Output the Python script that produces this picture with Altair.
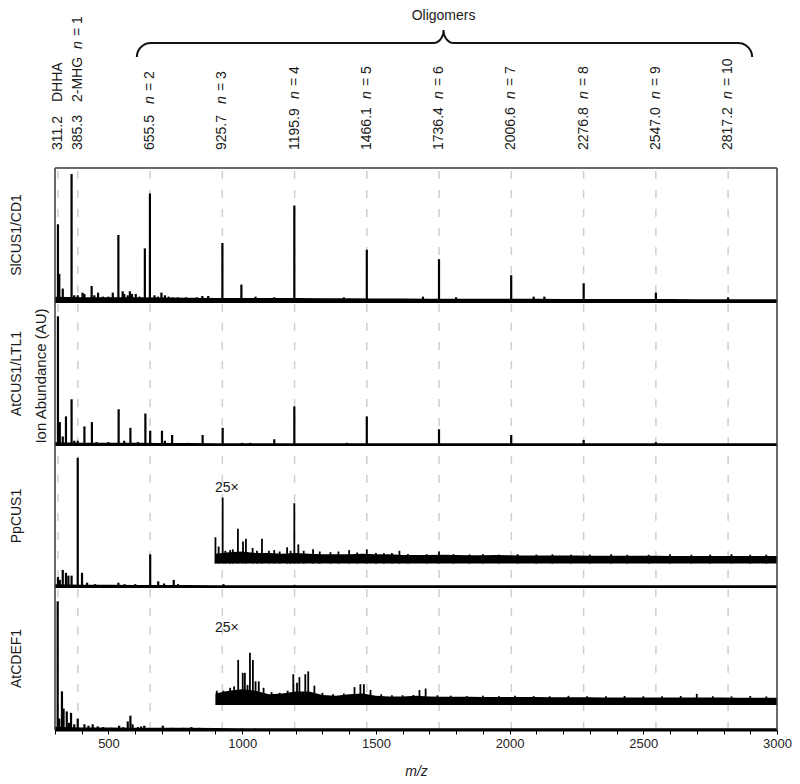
import numpy as np
import pandas as pd
import altair as alt

FONT = "Liberation Sans"

# ---------------- data ----------------
panel_names = ["SlCUS1/CD1", "AtCUS1/LTL1", "PpCUS1", "AtCDEF1"]

marker_mz = [311.2, 385.3, 655.5, 925.7, 1195.9, 1466.1, 1736.4, 2006.6, 2276.8, 2547.0, 2817.2]
marker_num = ["311.2", "385.3", "655.5", "925.7", "1195.9", "1466.1", "1736.4", "2006.6", "2276.8", "2547.0", "2817.2"]
marker_name = ["DHHA", "2-MHG", "", "", "", "", "", "", "", "", ""]
marker_n = ["", "1", "2", "3", "4", "5", "6", "7", "8", "9", "10"]

tick_values = list(range(300, 3001, 100))

# Panel 1: SlCUS1/CD1 (relative intensity, fraction of panel height)
sl_mz = [311, 316, 329, 362, 372, 385, 403, 410, 437, 447, 461, 479, 500, 516, 537, 553, 559, 572, 580, 588,
         602, 616, 636, 655, 672, 685, 698, 711, 725, 740, 760, 790, 830, 851, 873, 926, 997, 1050, 1120, 1195,
         1380, 1466, 1676, 1736, 1800, 2006, 2090, 2130, 2277, 2547, 2817]
sl_int = [0.58, 0.21, 0.10, 0.955, 0.05, 0.05, 0.07, 0.06, 0.12, 0.05, 0.07, 0.04, 0.04, 0.07, 0.50, 0.08, 0.06, 0.05, 0.08, 0.06,
          0.06, 0.04, 0.40, 0.81, 0.05, 0.04, 0.07, 0.05, 0.04, 0.035, 0.035, 0.035, 0.035, 0.045, 0.045, 0.44, 0.13, 0.04, 0.035, 0.72,
          0.035, 0.39, 0.04, 0.32, 0.035, 0.20, 0.04, 0.04, 0.14, 0.07, 0.035]

# Panel 2: AtCUS1/LTL1
at_mz = [311, 318, 329, 341, 362, 372, 385, 410, 438, 455, 500, 538, 559, 582, 610, 638, 656, 700, 711, 738,
         800, 852, 927, 1000, 1030, 1120, 1195, 1392, 1466, 1736, 2006, 2277, 2547]
at_int = [0.90, 0.16, 0.06, 0.20, 0.32, 0.03, 0.03, 0.13, 0.16, 0.02, 0.02, 0.25, 0.03, 0.12, 0.02, 0.22, 0.10, 0.10, 0.03, 0.07,
          0.015, 0.07, 0.12, 0.015, 0.015, 0.04, 0.27, 0.015, 0.20, 0.11, 0.07, 0.035, 0.02]

# Panel 3: PpCUS1
pp_mz = [311, 318, 329, 341, 350, 362, 385, 401, 420, 450, 537, 560, 600, 656, 686, 708, 744, 760, 930, 1195]
pp_int = [0.07, 0.05, 0.12, 0.10, 0.08, 0.08, 0.91, 0.10, 0.03, 0.02, 0.03, 0.02, 0.02, 0.23, 0.04, 0.025, 0.05, 0.02, 0.02, 0.015]

# Panel 3, 25x trace (height above its own offset baseline)
pp_inset_mz = [900, 912, 927, 937, 955, 965, 984, 1003, 1014, 1039, 1055, 1074, 1100, 1120, 1140, 1168, 1181, 1195, 1210, 1230,
               1265, 1290, 1330, 1360, 1400, 1430, 1466, 1500, 1530, 1560, 1588, 1620, 1690, 1736, 1790, 1850, 1900, 1960, 2030, 2100,
               2160, 2230, 2300, 2380, 2440, 2520, 2600, 2680, 2750, 2830, 2900, 2960]
pp_inset_int = [0.185, 0.12, 0.465, 0.09, 0.095, 0.10, 0.245, 0.155, 0.175, 0.11, 0.09, 0.175, 0.09, 0.095, 0.085, 0.115, 0.09, 0.425, 0.135, 0.09,
                0.10, 0.085, 0.08, 0.085, 0.095, 0.078, 0.10, 0.075, 0.072, 0.075, 0.09, 0.068, 0.066, 0.085, 0.066, 0.064, 0.066, 0.063, 0.066, 0.063,
                0.065, 0.062, 0.063, 0.066, 0.062, 0.062, 0.065, 0.062, 0.063, 0.066, 0.062, 0.063]

# Panel 4: AtCDEF1
cd_mz = [310, 316, 326, 332, 344, 352, 360, 372, 385, 410, 425, 441, 460, 480, 510, 540, 555, 572, 582, 590,
         610, 622, 634, 703, 740, 780, 810, 840, 1000, 1050]
cd_int = [0.90, 0.08, 0.27, 0.15, 0.13, 0.05, 0.12, 0.04, 0.08, 0.04, 0.03, 0.04, 0.025, 0.02, 0.015, 0.03, 0.02, 0.06, 0.10, 0.04,
          0.02, 0.025, 0.03, 0.03, 0.015, 0.015, 0.02, 0.015, 0.01, 0.01]

cd_inset_mz = [905, 930, 955, 970, 985, 1002, 1010, 1020, 1029, 1040, 1050, 1062, 1080, 1110, 1140, 1170, 1191, 1205, 1214, 1236,
               1247, 1270, 1300, 1340, 1380, 1420, 1442, 1455, 1480, 1520, 1560, 1600, 1640, 1663, 1686, 1730, 1780, 1840, 1900, 1960,
               2020, 2090, 2150, 2220, 2290, 2360, 2430, 2500, 2570, 2640, 2700, 2760, 2830, 2900, 2960]
cd_inset_int = [0.10, 0.10, 0.12, 0.13, 0.315, 0.225, 0.225, 0.14, 0.365, 0.315, 0.165, 0.165, 0.12, 0.09, 0.085, 0.10, 0.215, 0.155, 0.195, 0.215,
                0.235, 0.135, 0.085, 0.075, 0.08, 0.125, 0.145, 0.145, 0.105, 0.075, 0.068, 0.068, 0.07, 0.105, 0.115, 0.068, 0.065, 0.062, 0.065, 0.062,
                0.064, 0.062, 0.061, 0.064, 0.061, 0.061, 0.063, 0.061, 0.061, 0.063, 0.078, 0.061, 0.06, 0.063, 0.06]

# baseline noise level, main traces (m/z 300..3000 every 100)
noise_grid = list(range(300, 3001, 100))
sl_noise = [0.04, 0.036, 0.036, 0.035, 0.034, 0.032, 0.03, 0.03, 0.03, 0.03, 0.028, 0.028, 0.026, 0.026, 0.025,
            0.025, 0.024, 0.024, 0.024, 0.023, 0.023, 0.022, 0.022, 0.022, 0.021, 0.021, 0.02, 0.02]
at_noise = [0.02, 0.016, 0.015, 0.015, 0.014, 0.014, 0.013, 0.013, 0.013, 0.013, 0.012, 0.012, 0.012, 0.012,
            0.012, 0.012, 0.012, 0.012, 0.012, 0.012, 0.012, 0.012, 0.012, 0.012, 0.012, 0.012, 0.012, 0.012]
pp_noise = [0.02, 0.016, 0.015, 0.014, 0.014, 0.014, 0.013, 0.013, 0.012, 0.012, 0.012, 0.012, 0.012, 0.012,
            0.012, 0.012, 0.012, 0.012, 0.012, 0.012, 0.012, 0.012, 0.012, 0.012, 0.012, 0.012, 0.012, 0.012]
cd_noise = [0.022, 0.018, 0.017, 0.016, 0.016, 0.015, 0.014, 0.013, 0.013, 0.012, 0.012, 0.012, 0.012, 0.012,
            0.012, 0.012, 0.012, 0.012, 0.012, 0.012, 0.012, 0.012, 0.012, 0.012, 0.012, 0.012, 0.012, 0.012]

# noise level of the 25x traces (m/z 900..3000 every 50)
inset_grid = list(range(900, 3001, 50))
pp_inset_noise = [0.07, 0.08, 0.085, 0.075, 0.075, 0.07, 0.075, 0.07, 0.065, 0.065,
                  0.065, 0.07, 0.065, 0.065, 0.06, 0.06, 0.06, 0.062, 0.06, 0.058,
                  0.058, 0.06, 0.058, 0.057, 0.057, 0.056, 0.056, 0.056, 0.055, 0.055,
                  0.055, 0.055, 0.055, 0.055, 0.054, 0.054, 0.054, 0.054, 0.054, 0.053,
                  0.053, 0.053, 0.053]
cd_inset_noise = [0.08, 0.10, 0.11, 0.10, 0.075, 0.08, 0.095, 0.095, 0.07, 0.065,
                  0.075, 0.08, 0.065, 0.06, 0.06, 0.065, 0.06, 0.058, 0.058, 0.057,
                  0.056, 0.056, 0.055, 0.055, 0.055, 0.054, 0.054, 0.054, 0.054, 0.053,
                  0.053, 0.053, 0.053, 0.052, 0.052, 0.052, 0.052, 0.052, 0.052, 0.051,
                  0.051, 0.051, 0.05]

# ---------------- layout (pixels) ----------------
W, H = 722, 720
panel_h = [134, 143, 142, 143]          # top -> bottom
bases = []
acc = 0
for h in reversed(panel_h):
    bases.insert(0, acc)
    acc += h
top_of_panels = acc                      # 562
inset_offset = {2: 0.165, 3: 0.175}
label_base = 580

peaks = [(sl_mz, sl_int), (at_mz, at_int), (pp_mz, pp_int), (cd_mz, cd_int)]
noises = [sl_noise, at_noise, pp_noise, cd_noise]

rows = []
for i, (mz, it) in enumerate(peaks):
    for m, v in zip(mz, it):
        rows.append({"mz": m, "y": bases[i], "y2": bases[i] + v * panel_h[i], "panel": panel_names[i]})
peak_df = pd.DataFrame(rows)

rows = []
for i, nz in enumerate(noises):
    for m, v in zip(noise_grid, nz):
        rows.append({"mz": m, "y": bases[i], "y2": bases[i] + v * panel_h[i], "panel": panel_names[i]})
noise_df = pd.DataFrame(rows)

rows, arows = [], []
for i, mz, it, nz in [(2, pp_inset_mz, pp_inset_int, pp_inset_noise), (3, cd_inset_mz, cd_inset_int, cd_inset_noise)]:
    b = bases[i] + inset_offset[i] * panel_h[i]
    for m, v in zip(mz, it):
        rows.append({"mz": m, "y": b, "y2": b + v * panel_h[i], "panel": panel_names[i]})
    for m, v in zip(inset_grid, nz):
        arows.append({"mz": m, "y": b, "y2": b + v * panel_h[i], "panel": panel_names[i]})
inset_peak_df = pd.DataFrame(rows)
inset_area_df = pd.DataFrame(arows)

base_df = pd.DataFrame({"mz": [300] * 4, "mz2": [3000] * 4, "y": bases})
frame_df = pd.DataFrame({"mz": [300, 3000, 300], "mz2": [300, 3000, 3000],
                         "y": [0, 0, top_of_panels], "y2": [top_of_panels, top_of_panels, top_of_panels]})
dash_df = pd.DataFrame({"mz": marker_mz, "y": [0] * len(marker_mz), "y2": [top_of_panels + 8] * len(marker_mz)})

# header labels
norm_rows, ital_rows = [], []
for m, num, name, n in zip(marker_mz, marker_num, marker_name, marker_n):
    norm_rows.append({"mz": m, "y": label_base, "text": num})
    if name:
        norm_rows.append({"mz": m, "y": label_base + 48, "text": name})
    if n:
        if name:
            ny = label_base + 101
        else:
            ny = label_base + (46 if len(num) == 5 else 51)
        ital_rows.append({"mz": m, "y": ny, "text": "n"})
        norm_rows.append({"mz": m, "y": ny + 13, "text": "= " + n})
norm_df = pd.DataFrame(norm_rows)
ital_df = pd.DataFrame(ital_rows)

# brace over the oligomers
br_left, br_tip, br_right = 606, 1753, 2907
px = (3000 - 300) / W
r_end, r_tip = 14 * px, 10 * px
y_end, y_bar, y_tip = 673, 687, 700
t = np.linspace(0, np.pi / 2, 12)
bx = list(br_left + r_end - r_end * np.cos(t))
by = list(y_end + 14 * np.sin(t))
bx += list(br_tip - r_tip + r_tip * np.sin(t))
by += list(y_bar + 13 * (1 - np.cos(t)))
bx += list(br_tip + r_tip - r_tip * np.cos(t))
by += list(y_tip - 13 * np.sin(t))
bx += list(br_right - r_end + r_end * np.sin(t))
by += list(y_end + 14 * np.cos(t))
brace_df = pd.DataFrame({"mz": bx, "y": by, "order": range(len(bx))})

name_df = pd.DataFrame({"text": panel_names, "y": [bases[i] + panel_h[i] / 2 for i in range(4)]})
mag_df = pd.DataFrame({"mz": [898, 898], "y": [bases[2] + 0.70 * panel_h[2], bases[3] + 0.71 * panel_h[3]], "text": ["25×", "25×"]})
olig_df = pd.DataFrame({"mz": [1753], "y": [714], "text": ["Oligomers"]})
ion_df = pd.DataFrame({"y": [354], "text": ["Ion Abundance (AU)"]})

# ---------------- encodings ----------------
xaxis = alt.Axis(values=tick_values,
                 labelExpr="datum.value % 500 === 0 ? '' + datum.value : ''",
                 tickSize=4, tickWidth=1, tickColor="#000", domainColor="#000", domainWidth=2,
                 labelFont=FONT, labelFontSize=13, labelColor="#222", labelPadding=3,
                 labelOverlap=False, labelFlush=False, grid=False,
                 titleFont=FONT, titleFontSize=14, titleFontStyle="italic", titleFontWeight="normal",
                 titleColor="#222", titlePadding=14)
xs = alt.Scale(domain=[300, 3000], nice=False, zero=False)
ys = alt.Scale(domain=[0, H], nice=False, zero=False)
X = alt.X("mz:Q", scale=xs, axis=xaxis, title="m/z")
Y = alt.Y("y:Q", scale=ys, axis=None)

dashes = alt.Chart(dash_df).mark_rule(color="#cfcfcf", strokeWidth=1.5, strokeDash=[8, 11]).encode(
    x=X, y=Y, y2="y2:Q")
noise = alt.Chart(noise_df).mark_area(color="#000", interpolate="linear").encode(
    x=X, y=Y, y2="y2:Q", detail="panel:N")
baselines = alt.Chart(base_df).mark_rule(color="#000", strokeWidth=2).encode(x=X, x2="mz2:Q", y=Y)
peak_marks = alt.Chart(peak_df).mark_rule(color="#000", strokeWidth=2.2).encode(x=X, y=Y, y2="y2:Q")
inset_area = alt.Chart(inset_area_df).mark_area(color="#000", interpolate="linear").encode(
    x=X, y=Y, y2="y2:Q", detail="panel:N")
inset_peaks = alt.Chart(inset_peak_df).mark_rule(color="#000", strokeWidth=1.8).encode(x=X, y=Y, y2="y2:Q")
frame = alt.Chart(frame_df).mark_rule(color="#3a3a3a", strokeWidth=1.5).encode(
    x=X, x2="mz2:Q", y=Y, y2="y2:Q")
brace = alt.Chart(brace_df).mark_line(color="#111", strokeWidth=2).encode(x=X, y=Y, order="order:Q")

txt = dict(font=FONT, fontSize=14, color="#1a1a1a")
top_norm = alt.Chart(norm_df).mark_text(angle=270, align="left", baseline="middle", **txt).encode(
    x=X, y=Y, text="text:N")
top_ital = alt.Chart(ital_df).mark_text(angle=270, align="left", baseline="middle", fontStyle="italic", **txt).encode(
    x=X, y=Y, text="text:N")
olig = alt.Chart(olig_df).mark_text(align="center", baseline="middle", **txt).encode(x=X, y=Y, text="text:N")
mag = alt.Chart(mag_df).mark_text(align="left", baseline="middle", **txt).encode(x=X, y=Y, text="text:N")
names = alt.Chart(name_df).mark_text(angle=270, align="center", baseline="middle", **txt).encode(
    x=alt.value(-38), y=Y, text="text:N")
ion = alt.Chart(ion_df).mark_text(angle=270, align="center", baseline="middle", font=FONT, fontSize=15,
                                  color="#1a1a1a").encode(x=alt.value(-14), y=Y, text="text:N")

chart = alt.layer(dashes, noise, baselines, peak_marks, inset_area, inset_peaks, frame, brace,
                  top_norm, top_ital, olig, mag, names, ion).properties(
    width=W, height=H, padding={"left": 1, "top": 0, "right": 0, "bottom": 0}
).configure_view(stroke=None)

chart.save("out.html", embed_options={"renderer": "svg", "actions": False})
